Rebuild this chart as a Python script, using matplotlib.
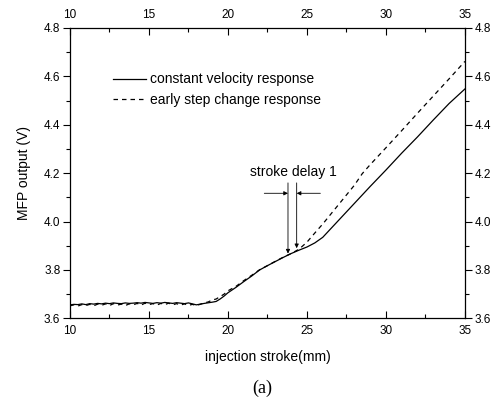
import matplotlib
matplotlib.use('Agg')
import matplotlib.pyplot as plt
from matplotlib.ticker import MultipleLocator

plt.rcParams['font.family'] = ['Liberation Sans', 'DejaVu Sans']

# Données
stroke_flat = [10.0, 10.25, 10.5, 10.75, 11.0, 11.25, 11.5, 11.75, 12.0, 12.25,
               12.5, 12.75, 13.0, 13.25, 13.5, 13.75, 14.0, 14.25, 14.5, 14.75,
               15.0, 15.25, 15.5, 15.75, 16.0, 16.25, 16.5, 16.75, 17.0, 17.25,
               17.5, 17.75, 18.0]
const_flat = [3.656, 3.658, 3.657, 3.660, 3.657, 3.661, 3.659, 3.662, 3.660, 3.663,
              3.661, 3.664, 3.662, 3.661, 3.664, 3.662, 3.663, 3.665, 3.663, 3.666,
              3.664, 3.662, 3.665, 3.663, 3.666, 3.664, 3.662, 3.665, 3.663, 3.661,
              3.664, 3.660, 3.656]
step_flat = [3.652, 3.656, 3.651, 3.657, 3.653, 3.658, 3.652, 3.659, 3.654, 3.660,
             3.653, 3.661, 3.655, 3.659, 3.653, 3.660, 3.656, 3.662, 3.655, 3.663,
             3.657, 3.661, 3.655, 3.662, 3.657, 3.663, 3.656, 3.661, 3.655, 3.660,
             3.654, 3.658, 3.653]

const_rise_x = [18.5, 19.0, 19.25, 19.5, 19.75, 20.0, 20.5, 21.0, 21.5, 22.0, 22.5,
                23.0, 23.5, 24.0, 24.5, 25.0, 25.5, 26.0, 27.0, 28.0, 29.0, 30.0,
                31.0, 32.0, 33.0, 34.0, 35.0]
const_rise_y = [3.662, 3.667, 3.670, 3.680, 3.692, 3.706, 3.728, 3.752, 3.775, 3.800,
                3.818, 3.835, 3.852, 3.868, 3.882, 3.895, 3.912, 3.935, 4.005, 4.075,
                4.145, 4.213, 4.283, 4.350, 4.420, 4.488, 4.548]

step_rise_x = [18.5, 18.75, 19.0, 19.25, 19.5, 19.75, 20.0, 20.5, 21.0, 21.5, 22.0,
               22.5, 23.0, 23.5, 24.0, 24.5, 25.0, 25.5, 26.0, 26.5, 27.0, 27.5,
               28.0, 28.5, 29.0, 30.0, 31.0, 32.0, 33.0, 34.0, 35.0]
step_rise_y = [3.664, 3.668, 3.676, 3.680, 3.690, 3.700, 3.714, 3.732, 3.756, 3.778,
               3.801, 3.818, 3.836, 3.853, 3.868, 3.886, 3.915, 3.953, 3.990, 4.030,
               4.070, 4.110, 4.150, 4.198, 4.235, 4.305, 4.376, 4.448, 4.519, 4.590,
               4.662]

stroke_const = stroke_flat + const_rise_x
mfp_const = const_flat + const_rise_y
stroke_step = stroke_flat + step_rise_x
mfp_step = step_flat + step_rise_y

# positions des flèches "stroke delay"
delay_x1, delay_y1 = 23.8, 3.868
delay_x2, delay_y2 = 24.35, 3.890

fig = plt.figure(figsize=(4.93, 4.0), dpi=100)
ax = fig.add_axes([0.142, 0.204, 0.801, 0.726])

ax.plot(stroke_const, mfp_const, color='black', lw=0.9,
        label='constant velocity response')
ax.plot(stroke_step, mfp_step, color='black', lw=0.9, linestyle=(0, (3.6, 3.2)),
        label='early step change response')

ax.set_xlim(10, 35)
ax.set_ylim(3.6, 4.8)
ax.xaxis.set_major_locator(MultipleLocator(5))
ax.xaxis.set_minor_locator(MultipleLocator(2.5))
ax.yaxis.set_major_locator(MultipleLocator(0.2))
ax.yaxis.set_minor_locator(MultipleLocator(0.1))
ax.tick_params(axis='x', which='both', direction='in', top=True, labeltop=True,
               labelsize=8.5, pad=5)
ax.tick_params(axis='y', which='both', direction='out', right=True, labelright=True,
               labelsize=8.5, pad=2)
ax.tick_params(which='major', length=5, width=0.8)
ax.tick_params(which='minor', length=3, width=0.8)
for s in ax.spines.values():
    s.set_linewidth(0.9)

ax.set_xlabel('injection stroke(mm)', fontsize=10, labelpad=9)
ax.set_ylabel('MFP output (V)', fontsize=10, labelpad=9)

ax.legend(loc='upper left', bbox_to_anchor=(0.077, 0.89), frameon=False,
          fontsize=10, handlelength=2.4, handletextpad=0.3, labelspacing=0.45)

# annotations
arrow = dict(arrowstyle='-|>', lw=0.6, color='black', mutation_scale=6,
             shrinkA=0, shrinkB=0)
ax.annotate('', xy=(delay_x1, delay_y1), xytext=(delay_x1, 4.16), arrowprops=arrow)
ax.annotate('', xy=(delay_x2, delay_y2), xytext=(delay_x2, 4.16), arrowprops=arrow)
ax.annotate('', xy=(delay_x1, 4.117), xytext=(22.3, 4.117), arrowprops=arrow)
ax.annotate('', xy=(delay_x2, 4.117), xytext=(25.85, 4.117), arrowprops=arrow)
ax.text(24.15, 4.205, 'stroke delay 1', ha='center', va='center', fontsize=10)

fig.text(0.532, 0.03, '(a)', ha='center', va='center', fontsize=13,
         family='Liberation Serif')

plt.savefig('out.png', dpi=100)
